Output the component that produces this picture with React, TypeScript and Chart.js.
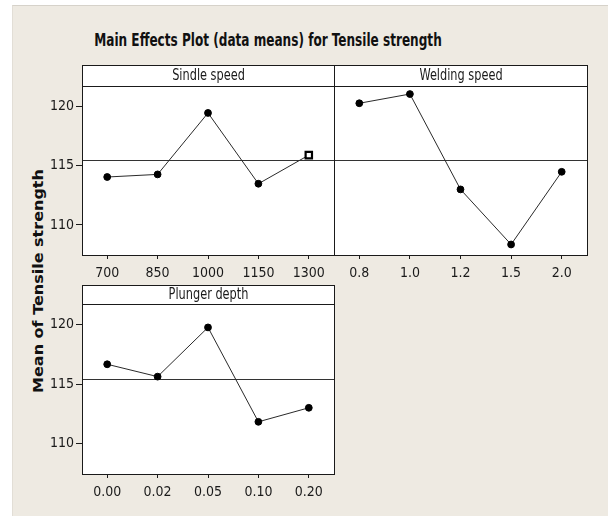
import React, { useEffect, useRef } from "react";
import { Chart, registerables } from "chart.js";

Chart.register(...registerables);

// ---- data ----
const sindleLabels = ["700", "850", "1000", "1150", "1300"];
const sindleMeans = [114.05, 114.27, 119.47, 113.48, 115.9];
const weldingLabels = ["0.8", "1.0", "1.2", "1.5", "2.0"];
const weldingMeans = [120.29, 121.07, 113.0, 108.34, 114.49];
const plungerLabels = ["0.00", "0.02", "0.05", "0.10", "0.20"];
const plungerMeans = [116.68, 115.64, 119.78, 111.84, 113.02];
const grandMean = 115.45;
const yTickValues = [110, 115, 120];
const yMin = 107.45;
const yMax = 121.75;

const NARROW = "'DejaVu Sans Condensed', 'Liberation Sans Narrow', 'Liberation Sans', sans-serif";

type PanelProps = {
  title: string;
  labels: string[];
  values: number[];
  L: number; R: number; T: number; B: number; H: number;
  showY: boolean;
  markLast?: boolean;
};

function Panel({ title, labels, values, L, R, T, B, H, showY, markLast }: PanelProps) {
  const ref = useRef<HTMLCanvasElement | null>(null);
  const cx = showY ? 0 : L - 20;
  const cy = H - 5;
  const cw = R - cx + 20;
  const ch = B - cy + 42;

  useEffect(() => {
    if (!ref.current) return;
    const n = values.length;
    const decor = {
      id: "decor",
      beforeDraw(chart: any) {
        const { ctx, chartArea: a } = chart;
        ctx.save();
        ctx.fillStyle = "#ffffff";
        ctx.fillRect(a.left, H - cy, a.right - a.left, a.bottom - (H - cy));
        ctx.restore();
      },
      beforeDatasetsDraw(chart: any) {
        const { ctx, chartArea: a, scales } = chart;
        const y = Math.round(scales.y.getPixelForValue(grandMean)) + 0.5;
        ctx.save();
        ctx.strokeStyle = "#333333";
        ctx.lineWidth = 1;
        ctx.beginPath();
        ctx.moveTo(a.left, y);
        ctx.lineTo(a.right, y);
        ctx.stroke();
        ctx.restore();
      },
      afterDraw(chart: any) {
        const { ctx, chartArea: a } = chart;
        const hTop = H - cy;
        const l = Math.round(a.left) + 0.5;
        const r = Math.round(a.right) + 0.5;
        ctx.save();
        ctx.strokeStyle = "#1a1a1a";
        ctx.lineWidth = 1;
        ctx.strokeRect(l, a.top + 0.5, r - l, a.bottom - a.top);
        ctx.strokeRect(l, hTop + 0.5, r - l, a.top - hTop);
        ctx.fillStyle = "#1a1a1a";
        ctx.font = `15px ${NARROW}`;
        ctx.textAlign = "center";
        ctx.textBaseline = "middle";
        ctx.translate((a.left + a.right) / 2 + 0.5, (hTop + a.top) / 2 + 1);
        ctx.scale(0.84, 1);
        ctx.fillText(title, 0, 0);
        ctx.restore();
      },
    };

    const chart = new Chart(ref.current, {
      type: "line",
      data: {
        labels,
        datasets: [
          {
            data: values,
            borderColor: "#2a2a2a",
            borderWidth: 1,
            pointStyle: values.map((_, i) => (markLast && i === n - 1 ? "rect" : "circle")) as any,
            pointRadius: values.map((_, i) => (markLast && i === n - 1 ? 4.5 : 3.4)),
            pointBackgroundColor: values.map((_, i) => (markLast && i === n - 1 ? "#ffffff" : "#000000")),
            pointBorderColor: "#000000",
            pointBorderWidth: values.map((_, i) => (markLast && i === n - 1 ? 2.2 : 1)),
            tension: 0,
          },
        ],
      },
      options: {
        responsive: false,
        animation: false,
        devicePixelRatio: 1,
        layout: { padding: { left: 0, right: cx + cw - R, top: T - cy, bottom: 0 } },
        plugins: { legend: { display: false }, tooltip: { enabled: false }, title: { display: false } },
        scales: {
          x: {
            type: "category",
            offset: true,
            grid: { drawOnChartArea: false, drawTicks: true, tickLength: 4, color: "#1a1a1a", offset: false },
            border: { display: false },
            ticks: { color: "#1a1a1a", font: { family: NARROW, size: 14 }, padding: 6, autoSkip: false, maxRotation: 0 },
            afterFit: (s: any) => { s.height = ch - (B - cy); },
          },
          y: {
            display: showY,
            min: yMin,
            max: yMax,
            grid: { drawOnChartArea: false, drawTicks: true, tickLength: 6, color: "#1a1a1a" },
            border: { display: false },
            ticks: { color: "#1a1a1a", font: { family: NARROW, size: 14 }, padding: 2 },
            afterBuildTicks: (s: any) => { s.ticks = yTickValues.map((v) => ({ value: v })); },
            afterFit: (s: any) => { s.width = L - cx; },
          },
        },
      },
      plugins: [decor],
    });
    return () => chart.destroy();
  }, []);

  return (
    <canvas
      ref={ref}
      width={cw}
      height={ch}
      style={{ position: "absolute", left: cx, top: cy, width: cw, height: ch }}
    />
  );
}

export default function App() {
  return (
    <div style={{ position: "fixed", left: 0, top: 0, width: 608, height: 516, background: "#ffffff", overflow: "hidden" }}>
      <div style={{ position: "absolute", left: 12, top: 5, right: 0, bottom: 0, background: "#eeeae2", borderTop: "1px solid #d6d2ca", borderLeft: "1px solid #e2ded6" }} />
      <div
        style={{
          position: "absolute", left: 0, top: 29, width: 536, height: 22, lineHeight: "22px",
          textAlign: "center", fontFamily: NARROW, fontWeight: "bold", fontSize: 17, color: "#111",
          transform: "scaleX(0.79)", transformOrigin: "50% 50%", whiteSpace: "nowrap",
        }}
      >
        Main Effects Plot (data means) for Tensile strength
      </div>
      <div
        style={{
          position: "absolute", left: 38.5 - 150, top: 281 - 10, width: 300, height: 20, lineHeight: "20px",
          textAlign: "center", fontFamily: "'DejaVu Sans', sans-serif", fontWeight: "bold", fontSize: 16, color: "#111",
          transform: "scaleX(0.85) rotate(-90deg)", transformOrigin: "50% 50%", whiteSpace: "nowrap",
        }}
      >
        Mean of Tensile strength
      </div>
      <Panel title="Sindle speed" labels={sindleLabels} values={sindleMeans} L={82} R={334} T={86} B={255} H={65} showY={true} markLast={true} />
      <Panel title="Welding speed" labels={weldingLabels} values={weldingMeans} L={334} R={587} T={86} B={255} H={65} showY={false} />
      <Panel title="Plunger depth" labels={plungerLabels} values={plungerMeans} L={82} R={334} T={304} B={474} H={285} showY={true} />
    </div>
  );
}
